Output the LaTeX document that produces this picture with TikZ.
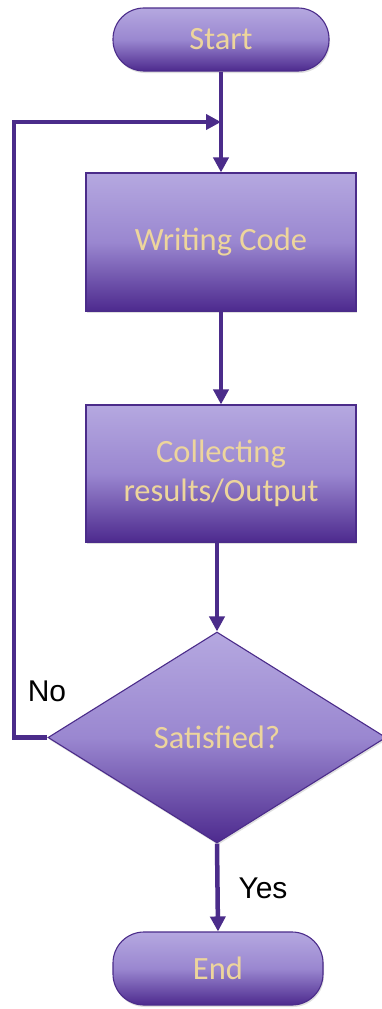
\documentclass[tikz,border=0pt]{standalone}
\usepackage{fontspec}
\setmainfont{Carlito}
\newfontfamily\labelfont{Liberation Sans}
\usetikzlibrary{arrows.meta,shapes.geometric,shadows}
\definecolor{flowtop}{HTML}{B5A8E0}
\definecolor{flowmid}{HTML}{9A87D0}
\definecolor{flowbot}{HTML}{4D2A8E}
\definecolor{flowline}{HTML}{4B2C8A}
\definecolor{flowtext}{HTML}{EDD59C}
\tikzset{
  flowshape/.style={draw=flowline, line width=1.1pt, inner sep=0pt,
    top color=flowtop, bottom color=flowbot, middle color=flowmid,
    text=flowtext, align=center, font=\fontsize{32.5}{39}\selectfont,
    drop shadow={opacity=0.25, shadow xshift=1pt, shadow yshift=-2pt}},
  terminal/.style={flowshape, rectangle, rounded corners=31pt},
  process/.style={flowshape, rectangle, minimum width=270pt},
  decision/.style={flowshape, diamond, minimum width=338pt, minimum height=211pt},
  flowarrow/.style={draw=flowline, line width=4.5pt,
    -{Triangle[length=15pt,width=15pt]}},
  edgelabel/.style={font=\labelfont\fontsize{30}{33}\selectfont, text=black}
}
\begin{document}
\begin{tikzpicture}[x=1pt,y=1pt]
\useasboundingbox (0,0) rectangle (381,-1009);
\fill[white] (0,0) rectangle (381,-1009);

% flowchart boxes
\node[terminal, minimum width=216pt, minimum height=63pt] (start) at (221,-39.5) {Start};
\node[process, minimum height=138pt] (code) at (221,-242) {Writing Code};
\node[process, minimum height=137pt] (collect) at (221,-473.5) {Collecting\\results/Output};
\node[decision] (sat) at (217,-737.5) {Satisfied?};
\node[terminal, minimum width=210pt, minimum height=73pt] (end) at (218,-968.5) {End};

% junction where the loop rejoins the main line
\coordinate (merge) at (221,-122);
\coordinate (loopcorner) at (14,-737.5);

% connectors
\draw[flowarrow] (start.south) -- (code.north);
\draw[flowarrow] (code.south) -- (collect.north);
\draw[flowarrow] (collect.south -| sat.north) -- (sat.north);
\draw[flowarrow] (sat.south) -- (end.north);
\draw[flowarrow] (sat.west) -- (loopcorner) |- (merge);

% branch labels
\node[edgelabel] (nolabel) at (47,-691) {No};
\node[edgelabel] (yeslabel) at (263,-888) {Yes};
\end{tikzpicture}
\end{document}
